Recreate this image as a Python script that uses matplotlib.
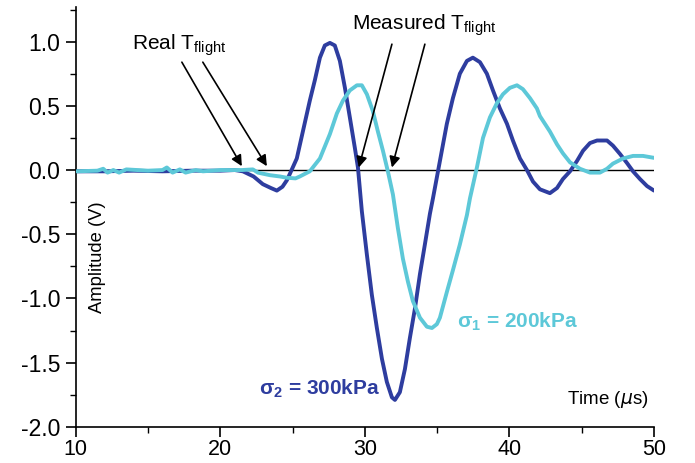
import numpy as np
import matplotlib
matplotlib.use('Agg')
import matplotlib.pyplot as plt
from matplotlib.ticker import MultipleLocator

plt.rcParams['font.family'] = ['Liberation Sans', 'DejaVu Sans']
plt.rcParams['axes.unicode_minus'] = False
plt.rcParams['mathtext.fontset'] = 'custom'
plt.rcParams['mathtext.rm'] = 'Liberation Sans'
plt.rcParams['mathtext.bf'] = 'Liberation Sans:bold'

# sigma2 = 300 kPa (dark blue)
t_300 = [10.0, 12.0, 14.0, 16.0, 18.0, 20.0, 21.0, 21.56, 22.3, 22.94, 23.5, 23.91,
         24.3, 24.6, 24.81, 25.29, 25.71, 26.19, 26.54, 26.89, 27.23, 27.58, 27.92,
         28.27, 28.62, 28.96, 29.31, 29.52, 29.79, 30.14, 30.48, 30.83, 31.18, 31.52,
         31.87, 32.08, 32.42, 32.77, 33.11, 33.46, 33.81, 34.15, 34.5, 34.71, 35.19,
         35.67, 36.09, 36.57, 37.06, 37.47, 37.96, 38.44, 38.86, 39.34, 39.83, 40.24,
         40.73, 41.21, 41.63, 42.11, 42.8, 43.29, 43.7, 44.19, 44.67, 45.09, 45.57,
         46.06, 46.75, 47.16, 47.65, 48.13, 48.55, 49.03, 49.52, 50.0]
a_300 = [-0.01, -0.01, -0.005, -0.01, -0.005, -0.005, 0.0, -0.01, -0.05, -0.11, -0.14, -0.16,
         -0.13, -0.08, -0.03, 0.09, 0.30, 0.54, 0.70, 0.875, 0.97, 0.99, 0.97,
         0.85, 0.64, 0.41, 0.17, 0.02, -0.32, -0.66, -0.97, -1.23, -1.47, -1.65,
         -1.77, -1.79, -1.73, -1.55, -1.31, -1.08, -0.81, -0.58, -0.34, -0.22, 0.07,
         0.36, 0.56, 0.75, 0.85, 0.875, 0.84, 0.75, 0.62, 0.48, 0.36, 0.23,
         0.09, 0.0, -0.09, -0.15, -0.18, -0.14, -0.07, -0.01, 0.07, 0.15, 0.21,
         0.23, 0.23, 0.19, 0.125, 0.055, -0.01, -0.07, -0.125, -0.16]

# sigma1 = 200 kPa (cyan)
t_200 = [10.0, 11.5, 11.9, 12.2, 12.6, 13.0, 13.5, 15.0, 16.0, 16.3, 16.7, 17.2, 17.6,
         18.3, 18.8, 20.0, 21.5, 22.25, 22.6, 23.43, 24.12, 24.6, 25.2, 25.5, 26.19,
         26.89, 27.58, 28.06, 28.48, 28.96, 29.45, 29.79, 30.14, 30.55, 30.9, 31.25,
         31.59, 31.94, 32.28, 32.63, 32.98, 33.32, 33.81, 34.29, 34.64, 34.98, 35.19,
         35.67, 36.09, 36.57, 37.06, 37.27, 37.75, 38.17, 38.65, 39.13, 39.55, 40.03,
         40.52, 40.93, 41.42, 41.9, 42.11, 42.8, 43.29, 43.7, 44.19, 44.88, 45.57,
         46.26, 46.75, 47.16, 47.86, 48.55, 49.24, 50.0]
a_200 = [-0.01, -0.005, 0.01, -0.02, 0.0, -0.02, 0.005, -0.005, 0.0, 0.02, -0.02, 0.005, -0.02,
         0.0, -0.01, 0.0, 0.0, 0.005, -0.02, -0.04, -0.05, -0.06, -0.065, -0.05, -0.01,
         0.09, 0.28, 0.44, 0.54, 0.62, 0.66, 0.66, 0.59, 0.46, 0.30, 0.15,
         -0.01, -0.19, -0.45, -0.69, -0.87, -1.02, -1.15, -1.22, -1.23, -1.20, -1.15,
         -0.95, -0.78, -0.58, -0.35, -0.22, 0.02, 0.25, 0.41, 0.52, 0.59, 0.64,
         0.66, 0.63, 0.56, 0.48, 0.42, 0.30, 0.20, 0.13, 0.06, 0.01, -0.02,
         -0.02, 0.01, 0.05, 0.09, 0.11, 0.11, 0.095]

# arrow annotations: (tail, head) in data coords
real_arrows = [((17.34, 0.84), (21.49, 0.03)), ((18.79, 0.84), (23.22, 0.03))]
meas_arrows = [((31.87, 0.98), (29.58, 0.02)), ((34.15, 0.98), (31.87, 0.02))]

dark_blue = '#2E3D9F'
cyan = '#5DC8D8'

fig = plt.figure(figsize=(6.95, 4.63), dpi=100)
ax = fig.add_axes([0.109, 0.078, 0.832, 0.907])

ax.axhline(0, color='black', lw=1.0, zorder=1)
ax.plot(t_300, a_300, color=dark_blue, lw=2.8, zorder=2,
        solid_joinstyle='round', solid_capstyle='round')
ax.plot(t_200, a_200, color=cyan, lw=2.8, zorder=3,
        solid_joinstyle='round', solid_capstyle='round')

ax.set_xlim(10, 50)
ax.set_ylim(-2.0, 1.27)
ax.spines['top'].set_visible(False)
ax.spines['right'].set_visible(False)
for s in ['left', 'bottom']:
    ax.spines[s].set_linewidth(1.2)
ax.xaxis.set_major_locator(MultipleLocator(10))
ax.xaxis.set_minor_locator(MultipleLocator(5))
ax.yaxis.set_major_locator(MultipleLocator(0.5))
ax.yaxis.set_minor_locator(MultipleLocator(0.25))
ax.yaxis.set_major_formatter(plt.FormatStrFormatter('%.1f'))
ax.tick_params(which='major', direction='out', length=7, width=1.2, labelsize=16.5, pad=4)
ax.tick_params(axis='x', which='major', labelsize=15.5, pad=1.5)
ax.tick_params(which='minor', direction='out', length=4, width=1.0)

for tail, head in real_arrows + meas_arrows:
    ax.annotate('', xy=head, xytext=tail,
                arrowprops=dict(arrowstyle='-|>', color='black', lw=1.2,
                                mutation_scale=16, shrinkA=0, shrinkB=0),
                zorder=4)

ax.text(13.9, 0.97, r'Real T$_{\mathrm{flight}}$', fontsize=15, va='center', ha='left')
ax.text(29.1, 1.125, r'Measured T$_{\mathrm{flight}}$', fontsize=15, va='center', ha='left')

ax.text(36.4, -1.18, r'σ$_\mathbf{1}$ = 200kPa', color=cyan, fontsize=15,
        fontweight='bold', va='center', ha='left')
ax.text(22.7, -1.70, r'σ$_\mathbf{2}$ = 300kPa', color=dark_blue, fontsize=15,
        fontweight='bold', va='center', ha='left')

ax.text(49.6, -1.79, r'Time ($\mu$s)', fontsize=13.5, va='center', ha='right')
ax.text(0.038, 0.405, 'Amplitude (V)', fontsize=13.2, rotation=90,
        va='center', ha='center', transform=ax.transAxes)

fig.savefig('out.png', dpi=100)
